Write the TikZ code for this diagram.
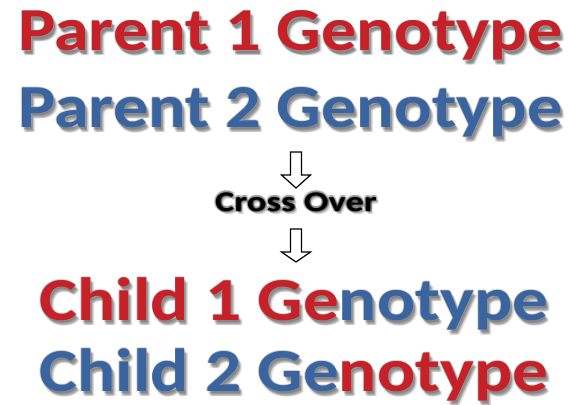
\documentclass[tikz,border=0pt]{standalone}
\usepackage{fontspec}
\setmainfont{Carlito}
\usetikzlibrary{calc}
\definecolor{rd}{HTML}{C62128}
\definecolor{bl}{HTML}{3A64A0}
\tikzset{
  big/.style={font=\bfseries\fontsize{61}{61}\selectfont, anchor=base, inner sep=0pt},
  small/.style={font=\bfseries\fontsize{28.5}{28.5}\selectfont, anchor=base, inner sep=0pt},
  shad/.style={text=black, opacity=0.12},
  rim/.style={text=black!35, opacity=0.5},
  glow/.style={text=black, opacity=0.16},
  downarrow/.style={draw=black, line width=1.2pt, fill=white, line join=miter}
}
\newcommand\fancytext[6]{%
  \foreach \dx/\dy in {1/2,2/3,3/4,2/5,4/5}{
    \node[#3, shad] at ($(#2)+(\dx,\dy)$) {\scalebox{#6}[1]{#4}};
  }
  \foreach \dx/\dy in {-0.8/0,0.8/0,0/-0.8,0/0.8}{
    \node[#3, rim] at ($(#2)+(\dx,\dy)$) {\scalebox{#6}[1]{#4}};
  }
  \node[#3] (#1) at (#2) {\scalebox{#6}[1]{#5}};
}
\newcommand\glowtext[5]{%
  \foreach \dx/\dy in {-1.5/0,1.5/0,0/-1.5,0/1.5,-1.2/1.2,1.2/1.2,-1.2/-1.2,1.2/-1.2,1.5/2.5,2.5/3}{
    \node[#3, glow] at ($(#2)+(\dx,\dy)$) {\scalebox{#5}[1]{#4}};
  }
  \node[#3] (#1) at (#2) {\scalebox{#5}[1]{#4}};
}
\begin{document}
\begin{tikzpicture}[x=1pt,y=-1pt]
\useasboundingbox (0,0) rectangle (585,404);
\fancytext{p1}{290.5,51}{big}{Parent 1 Genotype}{\color{rd}Parent 1 Genotype}{1.15}
\fancytext{p2}{290.5,127}{big}{Parent 2 Genotype}{\color{bl}Parent 2 Genotype}{1.15}
\glowtext{co}{296,211}{small}{Cross Over}{1.28}
\fancytext{c1}{294,320}{big}{Child 1 Genotype}{\color{rd}Child 1 Ge\color{bl}notype}{1.17}
\fancytext{c2}{294,391}{big}{Child 2 Genotype}{\color{bl}Child 2 Ge\color{rd}notype}{1.17}
\draw[downarrow] (290.5,152) -- (301.5,152) -- (301.5,175) -- (310.5,175) -- (296,188)
  -- (281.5,175) -- (290.5,175) -- cycle;
\draw[downarrow] (290.5,229) -- (301.5,229) -- (301.5,252) -- (310.5,252) -- (296,262)
  -- (281.5,252) -- (290.5,252) -- cycle;
\end{tikzpicture}
\end{document}
